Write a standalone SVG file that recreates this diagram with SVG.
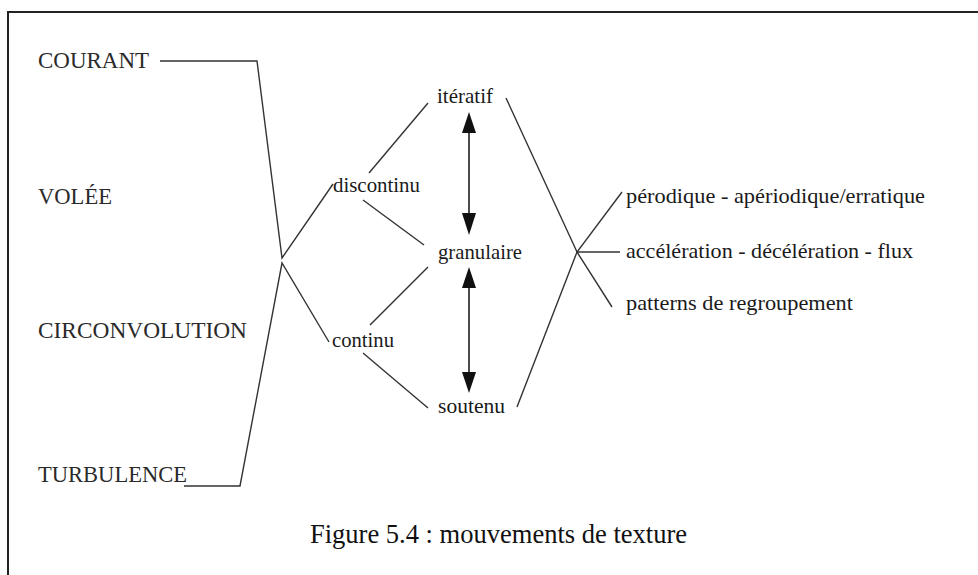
<svg xmlns="http://www.w3.org/2000/svg" width="978" height="575" viewBox="0 0 978 575">
<defs>
<style>
.t{font-family:"Liberation Serif","Times New Roman",serif;font-size:21px;fill:#1a1a1a}
.c{font-family:"Liberation Serif","Times New Roman",serif;font-size:22.5px;fill:#2a2a2a}
.cap{font-family:"Liberation Serif","Times New Roman",serif;font-size:26.5px;fill:#111}
.ln{stroke:#333;stroke-width:1.4;fill:none}
.fr{stroke:#222;stroke-width:2;fill:none}
.ar{stroke:#111;stroke-width:1.5}
.hd{fill:#111}
</style>
</defs>
<rect x="0" y="0" width="978" height="575" fill="#fff"/>
<path class="fr" d="M8,575 L8,12 L978,12"/>

<g id="courant"><text class="c" x="38" y="68" textLength="111" lengthAdjust="spacingAndGlyphs">COURANT</text></g>
<g id="volee"><text class="c" x="38" y="204" textLength="74" lengthAdjust="spacingAndGlyphs">VOLÉE</text></g>
<g id="circonvolution"><text class="c" x="38" y="338" textLength="209" lengthAdjust="spacingAndGlyphs">CIRCONVOLUTION</text></g>
<g id="turbulence"><text class="c" x="38" y="482" textLength="149" lengthAdjust="spacingAndGlyphs">TURBULENCE</text></g>

<g id="discontinu"><text class="t" x="333" y="192" textLength="87" lengthAdjust="spacingAndGlyphs">discontinu</text></g>
<g id="continu"><text class="t" x="332" y="347" textLength="62" lengthAdjust="spacingAndGlyphs">continu</text></g>

<g id="iteratif"><text class="t" x="437" y="103" textLength="56" lengthAdjust="spacingAndGlyphs">itératif</text></g>
<g id="granulaire"><text class="t" x="438" y="259" textLength="84" lengthAdjust="spacingAndGlyphs">granulaire</text></g>
<g id="soutenu"><text class="t" x="438" y="413" textLength="67" lengthAdjust="spacingAndGlyphs">soutenu</text></g>

<g id="periodique"><text class="t" x="626" y="203" textLength="299" lengthAdjust="spacingAndGlyphs">pérodique - apériodique/erratique</text></g>
<g id="acceleration"><text class="t" x="626" y="258" textLength="287" lengthAdjust="spacingAndGlyphs">accélération - décélération - flux</text></g>
<g id="patterns"><text class="t" x="626" y="310" textLength="227" lengthAdjust="spacingAndGlyphs">patterns de regroupement</text></g>

<g id="caption"><text class="cap" x="310" y="543" textLength="377" lengthAdjust="spacingAndGlyphs">Figure 5.4 : mouvements de texture</text></g>

<g id="connectors">
<path class="ln" d="M160,61 L257,61 L282,258 L333,184"/>
<path class="ln" d="M184,486 L240,486 L282,263 L329,342"/>
<path class="ln" d="M369,173 L428,103"/>
<path class="ln" d="M363,200 L424,245"/>
<path class="ln" d="M428,267 L370,325"/>
<path class="ln" d="M363,353 L428,408"/>
<path class="ln" d="M506,98 L577,252 L612,307"/>
<path class="ln" d="M517,407 L577,252 L622,192"/>
<path class="ln" d="M577,252 L620,252"/>
<line class="ar" x1="469" y1="124" x2="469" y2="223"/>
<path class="hd" d="M469,112 L462,133 L476,133 Z"/>
<path class="hd" d="M469,235 L462,213 L476,213 Z"/>
<line class="ar" x1="469" y1="280" x2="469" y2="380"/>
<path class="hd" d="M469,267 L462,288 L476,288 Z"/>
<path class="hd" d="M469,393 L462,372 L476,372 Z"/>
</g>
</svg>
